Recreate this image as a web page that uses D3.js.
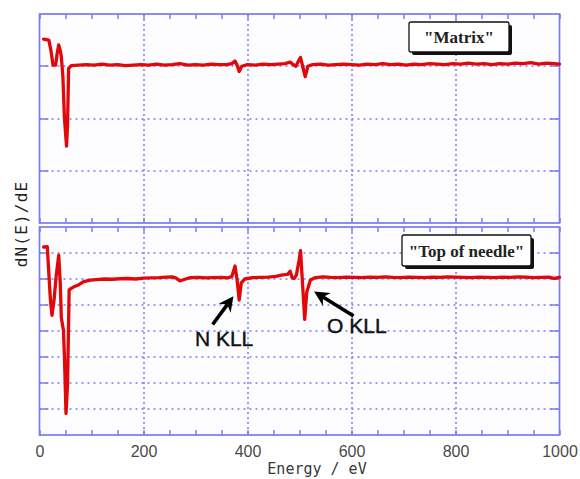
<!DOCTYPE html>
<html>
<head>
<meta charset="utf-8">
<script src="https://cdn.jsdelivr.net/npm/d3@7"></script>
<style>
  html, body { margin: 0; padding: 0; background: #ffffff; }
  svg { display: block; }
</style>
</head>
<body>
<div id="chart"></div>
<script>
// ---------------- DATA ----------------
const xTickValues = [0, 200, 400, 600, 800, 1000];
const xTickLabels = ["0", "200", "400", "600", "800", "1000"];
const xLabel = "Energy / eV";
const yLabel = "dN(E)/dE";

const topTitle = "\"Matrix\"";
const bottomTitle = "\"Top of needle\"";

const topEnergy = [8,18,22,26,31,34,37,40,42,45,48,52,54,56,61,75,90,105,120,135,150,165,180,195,210,225,240,255,270,285,300,315,330,345,360,370,376,380,384,389,400,415,430,445,460,472,482,488,493,497,502,506,511,516,525,540,555,570,585,600,615,630,645,660,675,690,705,720,735,750,765,780,795,810,825,840,855,870,885,900,915,930,945,960,975,990,1000];
const topSignal = [3.52,3.50,3.30,3.02,3.02,3.25,3.41,3.30,3.18,2.80,2.00,1.47,1.90,2.96,3.01,3.02,3.03,3.02,3.04,3.02,3.03,3.01,3.02,3.03,3.02,3.04,3.02,3.03,3.05,3.02,3.03,3.02,3.04,3.03,3.03,3.05,3.10,3.02,2.90,3.00,3.03,3.02,3.04,3.03,3.04,3.05,3.08,3.03,3.00,3.08,3.17,3.00,2.80,3.00,3.03,3.04,3.02,3.03,3.04,3.03,3.02,3.04,3.03,3.05,3.03,3.04,3.02,3.04,3.03,3.05,3.04,3.03,3.05,3.04,3.06,3.04,3.05,3.03,3.05,3.04,3.06,3.05,3.07,3.04,3.06,3.05,3.04];

const bottomEnergy = [8,15,18,21,24,28,32,37,40,42,46,48,51,54,57,62,66,75,85,98,110,125,140,155,170,185,200,215,230,245,255,262,270,278,290,305,320,335,350,362,370,376,380,384,388,395,410,425,440,455,465,477,482,486,490,494,499,502,506,510,514,521,530,545,560,575,590,605,620,635,650,665,680,695,710,725,740,755,770,785,800,815,830,845,860,875,890,905,920,935,950,965,980,990,1000];
const bottomSignal = [7.23,7.24,6.20,5.20,4.60,5.20,6.10,6.92,5.80,4.50,4.04,3.00,0.83,2.00,5.58,5.65,5.70,5.77,5.90,5.96,5.98,6.00,5.99,6.01,6.02,6.00,6.03,6.04,6.05,6.07,6.08,6.04,5.93,5.98,6.05,6.06,6.04,6.05,6.06,6.04,6.10,6.50,5.96,5.19,5.85,6.00,6.05,6.06,6.07,6.10,6.15,6.18,6.30,6.04,6.02,6.15,6.70,7.09,5.77,4.45,5.50,5.96,6.05,6.08,6.06,6.05,6.07,6.06,6.05,6.07,6.06,6.08,6.06,6.05,6.07,6.06,6.05,6.07,6.06,6.08,6.07,6.06,6.05,6.07,6.06,6.05,6.07,6.06,6.08,6.07,6.05,6.06,6.07,6.02,6.06];

// annotations (data coordinates of the bottom panel)
const annLabels = ["N KLL", "O KLL"];
const annTipE = [373, 528];
const annTipV = [5.34, 5.52];
const annTailE = [333, 604];
const annTailV = [4.25, 4.58];
const annTextE = [355, 553];
const annTextV = [3.42, 3.92];
const annAnchor = ["middle", "start"];

// ---------------- LAYOUT ----------------
const W = 580, H = 479;
const left = 39.5, right = 559.5;
const topPanel = { y0: 14, y1: 223, domain: [0, 4], grid: [1, 2, 3] };
const botPanel = { y0: 227, y1: 435, domain: [0, 8], grid: [1, 2, 3, 4, 5, 6, 7] };

const frameColor = "#7b7bf0";
const gridColor = "#7a7af2";
const lineColor = "#e00808";

const svg = d3.select("#chart").append("svg")
  .attr("width", W).attr("height", H);

svg.append("rect").attr("width", W).attr("height", H).attr("fill", "#ffffff");

const x = d3.scaleLinear().domain([0, 1000]).range([left, right]);
const minorTicks = d3.range(0, 1001, 50);
const majorGrid = [200, 400, 600, 800];

function drawPanel(p, energy, signal, title, box) {
  const y = d3.scaleLinear().domain(p.domain).range([p.y1, p.y0]);
  const g = svg.append("g");

  g.append("rect")
    .attr("x", left).attr("y", p.y0)
    .attr("width", right - left).attr("height", p.y1 - p.y0)
    .attr("fill", "#fdfdff");

  g.selectAll(".vg").data(majorGrid).enter().append("line")
    .attr("x1", d => Math.round(x(d))).attr("x2", d => Math.round(x(d)))
    .attr("y1", p.y0).attr("y2", p.y1)
    .attr("stroke", gridColor).attr("stroke-width", 1.5)
    .attr("stroke-dasharray", "2,3");

  g.selectAll(".hg").data(p.grid).enter().append("line")
    .attr("x1", left).attr("x2", right)
    .attr("y1", d => Math.round(y(d))).attr("y2", d => Math.round(y(d)))
    .attr("stroke", gridColor).attr("stroke-width", 1.5)
    .attr("stroke-dasharray", "2,4");

  g.selectAll(".yl").data(p.grid).enter().append("line")
    .attr("x1", left).attr("x2", left + 9)
    .attr("y1", d => Math.round(y(d))).attr("y2", d => Math.round(y(d)))
    .attr("stroke", frameColor).attr("stroke-width", 1.5);
  g.selectAll(".yr").data(p.grid).enter().append("line")
    .attr("x1", right - 9).attr("x2", right)
    .attr("y1", d => Math.round(y(d))).attr("y2", d => Math.round(y(d)))
    .attr("stroke", frameColor).attr("stroke-width", 1.5);

  g.selectAll(".xt").data(minorTicks).enter().append("line")
    .attr("x1", d => Math.round(x(d))).attr("x2", d => Math.round(x(d)))
    .attr("y1", p.y0).attr("y2", p.y0 + 5)
    .attr("stroke", frameColor).attr("stroke-width", 1.5);
  g.selectAll(".xb").data(minorTicks).enter().append("line")
    .attr("x1", d => Math.round(x(d))).attr("x2", d => Math.round(x(d)))
    .attr("y1", p.y1 - 5).attr("y2", p.y1)
    .attr("stroke", frameColor).attr("stroke-width", 1.5);

  g.append("rect")
    .attr("x", left).attr("y", p.y0)
    .attr("width", right - left).attr("height", p.y1 - p.y0)
    .attr("fill", "none").attr("stroke", frameColor).attr("stroke-width", 1.7);

  const pts = energy.map((e, i) => [e, signal[i]]);
  g.append("path")
    .datum(pts)
    .attr("d", d3.line().x(d => x(d[0])).y(d => y(d[1])))
    .attr("fill", "none").attr("stroke", lineColor)
    .attr("stroke-width", 3.3).attr("stroke-linejoin", "round").attr("stroke-linecap", "round");

  g.append("rect")
    .attr("x", box.x + 3).attr("y", box.y + 3)
    .attr("width", box.w).attr("height", box.h)
    .attr("rx", 2).attr("fill", "#111");
  g.append("rect")
    .attr("x", box.x).attr("y", box.y)
    .attr("width", box.w).attr("height", box.h)
    .attr("rx", 2).attr("fill", "#ffffff").attr("stroke", "#111").attr("stroke-width", 1.3);
  g.append("text")
    .attr("x", box.x + box.w / 2).attr("y", box.y + box.h / 2 + 6)
    .attr("text-anchor", "middle")
    .attr("font-family", "'Liberation Serif', 'Times New Roman', serif")
    .attr("font-weight", "bold").attr("font-size", 17)
    .attr("fill", "#222")
    .text(title);
  return y;
}

drawPanel(topPanel, topEnergy, topSignal, topTitle, { x: 409, y: 22, w: 100, h: 30 });
const yb = drawPanel(botPanel, bottomEnergy, bottomSignal, bottomTitle, { x: 402, y: 235, w: 129, h: 31 });

const xAxis = d3.axisBottom(x).tickValues(xTickValues)
  .tickFormat((d, i) => xTickLabels[i]).tickSize(0).tickPadding(11);
const ax = svg.append("g").attr("transform", `translate(0,${botPanel.y1})`).call(xAxis);
ax.select(".domain").remove();
ax.selectAll("text")
  .attr("font-family", "'Liberation Sans', Arial, sans-serif")
  .attr("font-size", 16).attr("fill", "#4a4a4a");

svg.append("text")
  .attr("x", 317).attr("y", 474)
  .attr("text-anchor", "middle")
  .attr("font-family", "'DejaVu Sans Mono', 'Liberation Mono', monospace")
  .attr("font-size", 15).attr("fill", "#383838")
  .text(xLabel);

svg.append("text")
  .attr("transform", "translate(27,224) rotate(-90)")
  .attr("text-anchor", "middle")
  .attr("font-family", "'DejaVu Sans Mono', 'Liberation Mono', monospace")
  .attr("font-size", 16).attr("fill", "#222")
  .attr("letter-spacing", 1.2)
  .text(yLabel);

// annotations: arrow shaft + filled head
const headLen = 15, headHalf = 7.5;
annLabels.forEach((lab, i) => {
  const tx = x(annTipE[i]), ty = yb(annTipV[i]);
  const sx = x(annTailE[i]), sy = yb(annTailV[i]);
  const dx = tx - sx, dy = ty - sy, L = Math.hypot(dx, dy);
  const ux = dx / L, uy = dy / L, nx = -uy, ny = ux;
  const bx = tx - ux * headLen, by = ty - uy * headLen;
  const ix = tx - ux * headLen * 0.7, iy = ty - uy * headLen * 0.7;
  svg.append("line")
    .attr("x1", sx).attr("y1", sy).attr("x2", ix).attr("y2", iy)
    .attr("stroke", "#000").attr("stroke-width", 3.6);
  svg.append("path")
    .attr("d", `M${tx},${ty} L${bx + nx * headHalf},${by + ny * headHalf} L${ix},${iy} L${bx - nx * headHalf},${by - ny * headHalf} Z`)
    .attr("fill", "#000");
  svg.append("text")
    .attr("x", x(annTextE[i])).attr("y", yb(annTextV[i]))
    .attr("text-anchor", annAnchor[i])
    .attr("font-family", "'Liberation Sans', Arial, sans-serif")
    .attr("font-size", 21).attr("fill", "#111")
    .attr("stroke", "#111").attr("stroke-width", 0.4)
    .text(lab);
});
</script>
</body>
</html>
